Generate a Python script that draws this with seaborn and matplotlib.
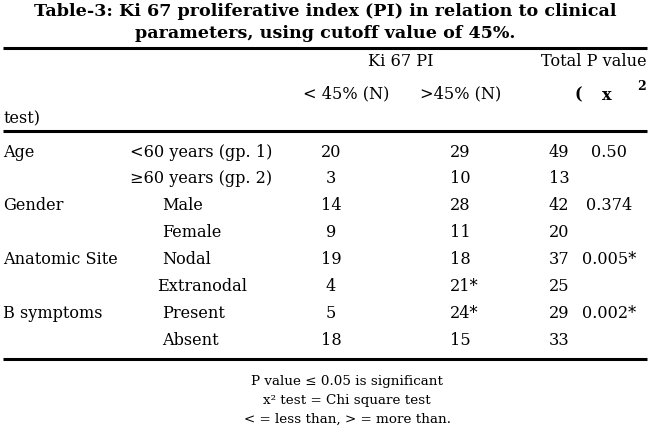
import matplotlib
matplotlib.use("Agg")
import matplotlib.pyplot as plt
import seaborn as sns

# table content
title_lines = ["Table-3: Ki 67 proliferative index (PI) in relation to clinical",
               "parameters, using cutoff value of 45%."]
parameters = ["Age", "", "Gender", "", "Anatomic Site", "", "B symptoms", ""]
subgroups = ["<60 years (gp. 1)", "\u226560 years (gp. 2)", "Male", "Female",
             "Nodal", "Extranodal", "Present", "Absent"]
below_45 = ["20", "3", "14", "9", "19", "4", "5", "18"]
above_45 = ["29", "10", "28", "11", "18", "21*", "24*", "15"]
totals = ["49", "13", "42", "20", "37", "25", "29", "33"]
p_values = ["0.50", "", "0.374", "", "0.005*", "", "0.002*", ""]
footnotes = ["P value \u2264 0.05 is significant",
             "x\u00b2 test = Chi square test",
             "< = less than, > = more than."]

sns.set_theme(style="white")
plt.rcParams['font.family'] = ['DejaVu Serif']
plt.rcParams['text.color'] = 'black'

W, H = 650, 436
fig = plt.figure(figsize=(W / 100, H / 100), dpi=100)
ax = fig.add_axes([0, 0, 1, 1])
ax.set_xlim(0, W)
ax.set_ylim(H, 0)
ax.axis("off")

# title
for i, line in enumerate(title_lines):
    ax.text(325, 12 + i * 21, line, ha="center", va="center",
            fontsize=12.6, fontweight="bold")

# rules
for y in [48, 131, 359]:
    ax.plot([3, 647], [y, y], color="black", lw=2.2, solid_capstyle="butt")

# header
hs = 11.6
ax.text(401, 62, "Ki 67 PI", ha="center", va="center", fontsize=hs)
ax.text(647, 62, "Total P value", ha="right", va="center", fontsize=hs)
ax.text(346, 94, "< 45% (N)", ha="center", va="center", fontsize=hs)
ax.text(461, 94, ">45% (N)", ha="center", va="center", fontsize=hs)
ax.text(575, 95, "(", ha="left", va="center", fontsize=hs, fontweight="bold")
ax.text(602, 95, "x", ha="left", va="center", fontsize=hs, fontweight="bold")
ax.text(637, 86, "2", ha="left", va="center", fontsize=9, fontweight="bold")
ax.text(4, 119, "test)", ha="left", va="center", fontsize=hs)

# body
row_y0, row_dy = 152, 26.9
for i in range(len(subgroups)):
    y = row_y0 + i * row_dy
    ax.text(3, y, parameters[i], ha="left", va="center", fontsize=hs)
    sx = 130 if i < 2 else 162
    if subgroups[i] == "Extranodal":
        sx = 157
    ax.text(sx, y, subgroups[i], ha="left", va="center", fontsize=hs)
    ax.text(331, y, below_45[i], ha="center", va="center", fontsize=hs)
    ax.text(450, y, above_45[i], ha="left", va="center", fontsize=hs)
    ax.text(559, y, totals[i], ha="center", va="center", fontsize=hs)
    ax.text(609, y, p_values[i], ha="center", va="center", fontsize=hs)

# footnotes
for i, note in enumerate(footnotes):
    ax.text(347, 381 + i * 19, note, ha="center", va="center", fontsize=9.7)

fig.savefig("out.png", dpi=100)
